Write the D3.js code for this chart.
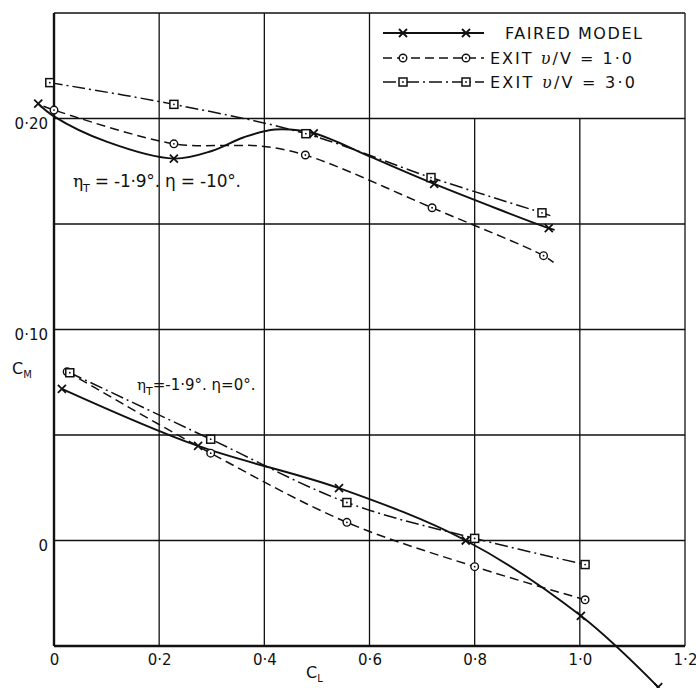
<!DOCTYPE html>
<html>
<head>
<meta charset="utf-8">
<script src="https://cdn.jsdelivr.net/npm/d3@7"></script>
<style>
  body { margin: 0; background: #fff; }
  text { font-family: "DejaVu Sans", sans-serif; fill: #111; }
</style>
</head>
<body>
<div id="chart"></div>
<script>
// tick values
var xTicks = [0, 0.2, 0.4, 0.6, 0.8, 1.0, 1.2];
var yGrid = [-0.05, 0, 0.05, 0.10, 0.15, 0.20, 0.25];
var yLabelled = [0, 0.10, 0.20];

// eta = -10 deg (upper set)
var fairedUpperMarks = [[-0.03, 0.207], [0.228, 0.181], [0.494, 0.193], [0.723, 0.169], [0.941, 0.148]];
var fairedUpperCurve = [[-0.03, 0.207], [0.0, 0.201], [0.1, 0.189], [0.228, 0.181], [0.3, 0.1846], [0.36, 0.191], [0.42, 0.1948], [0.494, 0.193], [0.6, 0.182], [0.723, 0.169], [0.941, 0.148], [0.952, 0.1472]];
var circleUpperMarks = [[0.0, 0.204], [0.228, 0.188], [0.478, 0.1827], [0.719, 0.1577], [0.931, 0.135]];
var circleUpperCurve = [[-0.02, 0.2058], [0.0, 0.204], [0.228, 0.188], [0.33, 0.1872], [0.39, 0.1870], [0.478, 0.1827], [0.719, 0.1577], [0.931, 0.135], [0.95, 0.1318]];
var squareUpperMarks = [[-0.008, 0.217], [0.228, 0.2067], [0.479, 0.1928], [0.717, 0.172], [0.928, 0.1553]];
var squareUpperCurve = [[-0.008, 0.217], [0.228, 0.2067], [0.479, 0.1928], [0.717, 0.172], [0.928, 0.1553], [0.946, 0.1538]];

// eta = 0 deg (lower set)
var fairedLowerMarks = [[0.015, 0.0719], [0.274, 0.0448], [0.542, 0.0248], [0.783, 0.0], [1.002, -0.0357], [1.149, -0.0695]];
var circleLowerMarks = [[0.025, 0.080], [0.298, 0.0414], [0.557, 0.0086], [0.80, -0.0124], [1.01, -0.0281]];
var squareLowerMarks = [[0.03, 0.0795], [0.298, 0.048], [0.557, 0.018], [0.80, 0.001], [1.01, -0.0114]];

var legendLabels = ["FAIRED MODEL", "EXIT ", "EXIT "];
var legendValues = ["", "1·0", "3·0"];

var W = 696, H = 688;
var svg = d3.select("#chart").append("svg")
	.attr("width", W)
	.attr("height", H);

var x = d3.scaleLinear().domain([0, 1.2]).range([54, 685]);
var y = d3.scaleLinear().domain([-0.05, 0.25]).range([646, 13]);

function fmt(v) {
	if (v == 0) return "0";
	return d3.format(".1f")(v).replace(".", "·");
}
function fmtY(v) {
	if (v == 0) return "0";
	return d3.format(".2f")(v).replace(".", "·");
}

// grid, legend box sits in the top right cell (0.6 - 1.2, 0.20 - 0.25)
var grid = svg.append("g");
grid.selectAll(".vline")
	.data(xTicks)
	.enter().append("line")
	.attr("x1", function(d) { return x(d); })
	.attr("x2", function(d) { return x(d); })
	.attr("y1", y(-0.05))
	.attr("y2", function(d) { return (d > 0.6 && d < 1.2) ? y(0.20) : y(0.25); })
	.style("stroke", "#111")
	.style("stroke-width", function(d) { return d == 0 ? 2.4 : 1.3; });

grid.selectAll(".hline")
	.data(yGrid)
	.enter().append("line")
	.attr("x1", x(0))
	.attr("x2", x(1.2))
	.attr("y1", function(d) { return y(d); })
	.attr("y2", function(d) { return y(d); })
	.style("stroke", "#111")
	.style("stroke-width", function(d) { return d == -0.05 ? 2.4 : 1.3; });

// axes for labels only
var xAxis = svg.append("g")
	.attr("transform", "translate(0," + y(-0.05) + ")")
	.call(d3.axisBottom(x).tickValues(xTicks).tickFormat(fmt).tickSize(0).tickPadding(8));
var yAxis = svg.append("g")
	.attr("transform", "translate(" + x(0) + ",0)")
	.call(d3.axisLeft(y).tickValues(yLabelled).tickFormat(fmtY).tickSize(0).tickPadding(6));
[xAxis, yAxis].forEach(function(a) {
	a.select(".domain").remove();
	a.selectAll("text")
		.style("font-family", "DejaVu Sans, sans-serif")
		.style("font-size", "15px")
		.style("fill", "#111");
});
yAxis.selectAll("text").attr("dy", "0.65em");

// axis titles
var cm = svg.append("text").attr("x", 12).attr("y", 374).style("font-size", "16px");
cm.append("tspan").text("C");
cm.append("tspan").attr("dy", 4).style("font-size", "10px").text("M");
var cl = svg.append("text").attr("x", 306).attr("y", 678).style("font-size", "16px");
cl.append("tspan").text("C");
cl.append("tspan").attr("dy", 4).style("font-size", "10px").text("L");

// curves
var smooth = d3.line()
	.x(function(d) { return x(d[0]); })
	.y(function(d) { return y(d[1]); })
	.curve(d3.curveCatmullRom.alpha(0.5));

var styles = {
	faired: { dash: null, width: 1.9 },
	circle: { dash: "9,5", width: 1.5 },
	square: { dash: "13,4,2,4", width: 1.5 }
};

function drawCurve(pts, kind) {
	svg.append("path")
		.datum(pts)
		.attr("d", smooth)
		.style("fill", "none")
		.style("stroke", "#111")
		.style("stroke-width", styles[kind].width)
		.style("stroke-dasharray", styles[kind].dash);
}

function marker(g, kind, px, py) {
	if (kind == "faired") {
		g.append("path")
			.attr("d", "M" + (px - 4) + "," + (py - 4) + "L" + (px + 4) + "," + (py + 4) +
				"M" + (px - 4) + "," + (py + 4) + "L" + (px + 4) + "," + (py - 4))
			.style("stroke", "#111")
			.style("stroke-width", 1.8);
	} else if (kind == "circle") {
		g.append("circle").attr("cx", px).attr("cy", py).attr("r", 3.8)
			.style("fill", "#fff").style("stroke", "#111").style("stroke-width", 1.4);
		g.append("circle").attr("cx", px).attr("cy", py).attr("r", 0.9).style("fill", "#111");
	} else {
		g.append("rect").attr("x", px - 4).attr("y", py - 4).attr("width", 8).attr("height", 8)
			.style("fill", "#fff").style("stroke", "#111").style("stroke-width", 1.5);
		g.append("circle").attr("cx", px).attr("cy", py).attr("r", 0.9).style("fill", "#111");
	}
}

function drawMarks(pts, kind) {
	var g = svg.append("g");
	pts.forEach(function(d) { marker(g, kind, x(d[0]), y(d[1])); });
}

drawCurve(squareUpperCurve, "square");
drawCurve(circleUpperCurve, "circle");
drawCurve(fairedUpperCurve, "faired");
drawCurve(squareLowerMarks, "square");
drawCurve(circleLowerMarks, "circle");
drawCurve(fairedLowerMarks, "faired");

drawMarks(squareUpperMarks, "square");
drawMarks(circleUpperMarks, "circle");
drawMarks(fairedUpperMarks, "faired");
drawMarks(circleLowerMarks, "circle");
drawMarks(squareLowerMarks, "square");
drawMarks(fairedLowerMarks, "faired");

// annotations
function etaLabel(xp, yp, tail, size, len) {
	var t = svg.append("text").attr("x", xp).attr("y", yp).style("font-size", size + "px");
	t.append("tspan").style("font-family", "DejaVu Serif, serif").text("η");
	t.append("tspan").attr("dy", 5).style("font-size", "11px").text("T");
	t.append("tspan").attr("dy", -5).text(tail);
	if (len) t.attr("textLength", len).attr("lengthAdjust", "spacing");
}
etaLabel(73, 187, " = -1·9°.  η = -10°.", 17, 168);
etaLabel(137, 390, "=-1·9°. η=0°.", 15, null);

// legend
var legendKinds = ["faired", "circle", "square"];
var legendY = [33, 58, 82];
var leg = svg.append("g");
legendKinds.forEach(function(k, i) {
	var ly = legendY[i];
	leg.append("line")
		.attr("x1", 383).attr("x2", 484)
		.attr("y1", ly).attr("y2", ly)
		.style("stroke", "#111")
		.style("stroke-width", styles[k].width)
		.style("stroke-dasharray", styles[k].dash);
	marker(leg, k, 403, ly);
	marker(leg, k, 466, ly);
	var t = leg.append("text")
		.attr("x", i == 0 ? 505 : 490)
		.attr("y", ly + 6)
		.style("font-size", "16px");
	t.append("tspan").text(legendLabels[i]);
	if (i > 0) {
		t.append("tspan").style("font-family", "DejaVu Serif, serif").style("font-style", "italic").text("υ");
		t.append("tspan").text("/V = " + legendValues[i]);
		t.attr("textLength", i == 1 ? 142 : 145).attr("lengthAdjust", "spacing");
	} else {
		t.attr("textLength", 137).attr("lengthAdjust", "spacing");
	}
});
</script>
</body>
</html>
